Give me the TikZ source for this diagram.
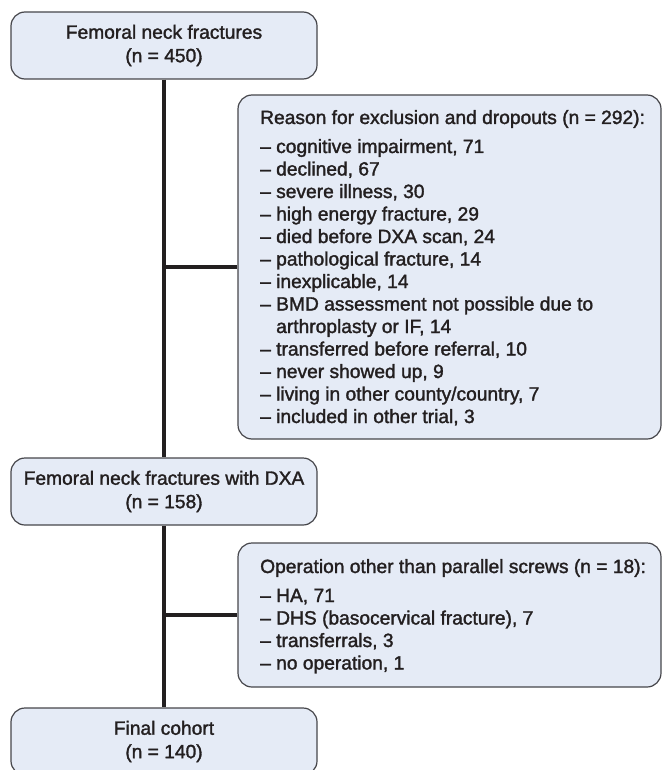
\documentclass[tikz,border=0pt]{standalone}
\usepackage{fontspec}
\setmainfont{Liberation Sans}[FakeBold=1.6]
\definecolor{boxfill}{RGB}{229,235,246}
\definecolor{boxline}{RGB}{70,70,75}
\definecolor{txt}{RGB}{35,31,32}
\definecolor{conn}{RGB}{35,31,32}
\begin{document}
\begin{tikzpicture}[x=1pt,y=-1pt,
  every node/.style={font=\fontsize{19.2}{23.5}\selectfont, text=txt},
  flowbox/.style={draw=boxline, line width=1.2pt, fill=boxfill, rounded corners=14pt, inner sep=0pt, align=center},
  listline/.style={anchor=base west, inner sep=0pt},
  link/.style={draw=conn, line width=3.2pt}]
\useasboundingbox (0,0) rectangle (662,770);
% main boxes
\node[flowbox, minimum width=306pt, minimum height=67pt] (start) at (164,45.5) {Femoral neck fractures\\(n = 450)};
\node[flowbox, minimum width=306pt, minimum height=67pt] (dxa) at (164,491.5) {Femoral neck fractures with DXA\\(n = 158)};
\node[flowbox, minimum width=306pt, minimum height=67pt] (final) at (164,741.5) {Final cohort\\(n = 140)};
% side boxes
\node[flowbox, minimum width=423pt, minimum height=344pt] (excl) at (449.5,267) {};
\node[flowbox, minimum width=423pt, minimum height=144pt] (oper) at (449.5,615) {};
% connectors
\coordinate (j1) at (start.south |- excl.west);
\coordinate (j2) at (dxa.south |- oper.west);
\draw[link] (start.south) -- (dxa.north);
\draw[link] (dxa.south) -- (final.north);
\draw[link] (j1) -- (excl.west);
\draw[link] (j2) -- (oper.west);
% exclusion text
\node[listline] (e0) at (260,124) {Reason for exclusion and dropouts (n = 292):};
\foreach \t [count=\i] in {{– cognitive impairment, 71},{– declined, 67},{– severe illness, 30},{– high energy fracture, 29},{– died before DXA scan, 24},{– pathological fracture, 14},{– inexplicable, 14},{– BMD assessment not possible due to},{\hphantom{– }arthroplasty or IF, 14},{– transferred before referral, 10},{– never showed up, 9},{– living in other county/country, 7},{– included in other trial, 3}}
  \node[listline] (e\i) at (260,{130.5+22.5*\i}) {\t};
% operation text
\node[listline] (o0) at (260,573) {Operation other than parallel screws (n = 18):};
\foreach \t [count=\i] in {{– HA, 71},{– DHS (basocervical fracture), 7},{– transferrals, 3},{– no operation, 1}}
  \node[listline] (o\i) at (260,{579.5+22.5*\i}) {\t};
\end{tikzpicture}
\end{document}
